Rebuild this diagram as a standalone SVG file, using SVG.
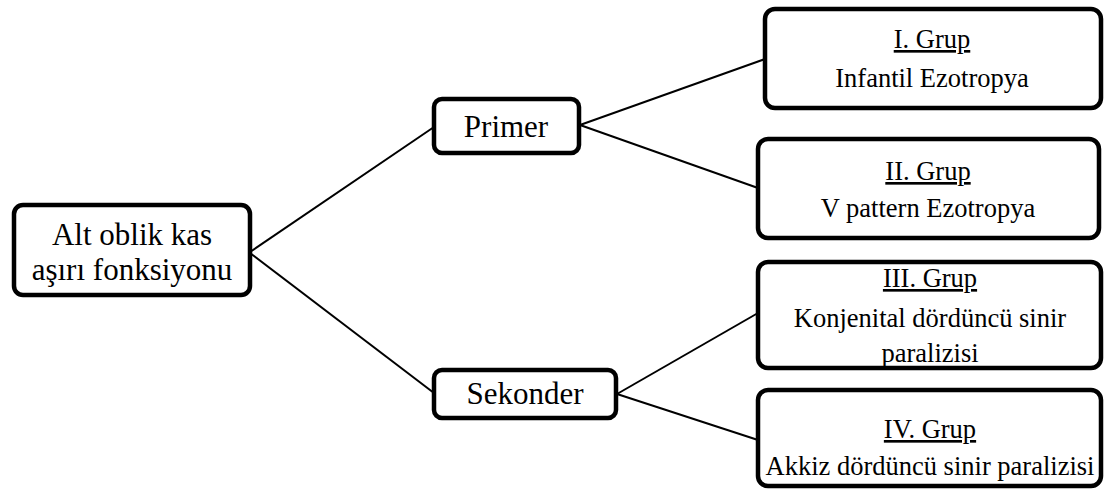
<svg xmlns="http://www.w3.org/2000/svg" width="1105" height="490" viewBox="0 0 1105 490">
<style>
.box{fill:#fff;stroke:#000;stroke-width:4.5}
.big{font-family:"Liberation Serif","Times New Roman",serif;font-size:31px;fill:#000;text-anchor:middle}
.sm{font-family:"Liberation Serif","Times New Roman",serif;font-size:26.5px;fill:#000;text-anchor:middle}
.u{text-decoration:underline}
.conn line{stroke:#000;stroke-width:2}
</style>
<rect width="1105" height="490" fill="#fff"/>
<g class="conn">
<line x1="250" y1="252" x2="434" y2="127"/>
<line x1="250" y1="253" x2="434" y2="393"/>
<line x1="580" y1="125" x2="765" y2="59"/>
<line x1="580" y1="125" x2="758" y2="188"/>
<line x1="617" y1="394" x2="758" y2="313"/>
<line x1="617" y1="394" x2="758" y2="440"/>
</g>
<g id="main">
<rect class="box" x="14" y="205" width="236" height="90" rx="9"/>
<text class="big" x="132" y="245">Alt oblik kas</text>
<text class="big" x="132" y="280">aşırı fonksiyonu</text>
</g>
<g id="primer">
<rect class="box" x="434" y="99" width="145" height="54" rx="8"/>
<text class="big" x="506" y="137">Primer</text>
</g>
<g id="sekonder">
<rect class="box" x="434" y="370" width="182" height="48" rx="8"/>
<text class="big" x="525" y="404">Sekonder</text>
</g>
<g id="grup1">
<rect class="box" x="765" y="9" width="336" height="99" rx="10"/>
<text class="sm u" x="932" y="48">I. Grup</text>
<text class="sm" x="932" y="87">Infantil Ezotropya</text>
</g>
<g id="grup2">
<rect class="box" x="758" y="139" width="341" height="99" rx="10"/>
<text class="sm u" x="928" y="180">II. Grup</text>
<text class="sm" x="928" y="217">V pattern Ezotropya</text>
</g>
<g id="grup3">
<rect class="box" x="758" y="262" width="343" height="106" rx="10"/>
<text class="sm u" x="930" y="287">III. Grup</text>
<text class="sm" x="930" y="327">Konjenital dördüncü sinir</text>
<text class="sm" x="930" y="362">paralizisi</text>
</g>
<g id="grup4">
<rect class="box" x="758" y="390" width="343" height="96" rx="10"/>
<text class="sm u" x="930" y="438">IV. Grup</text>
<text class="sm" x="930" y="475">Akkiz dördüncü sinir paralizisi</text>
</g>
</svg>
